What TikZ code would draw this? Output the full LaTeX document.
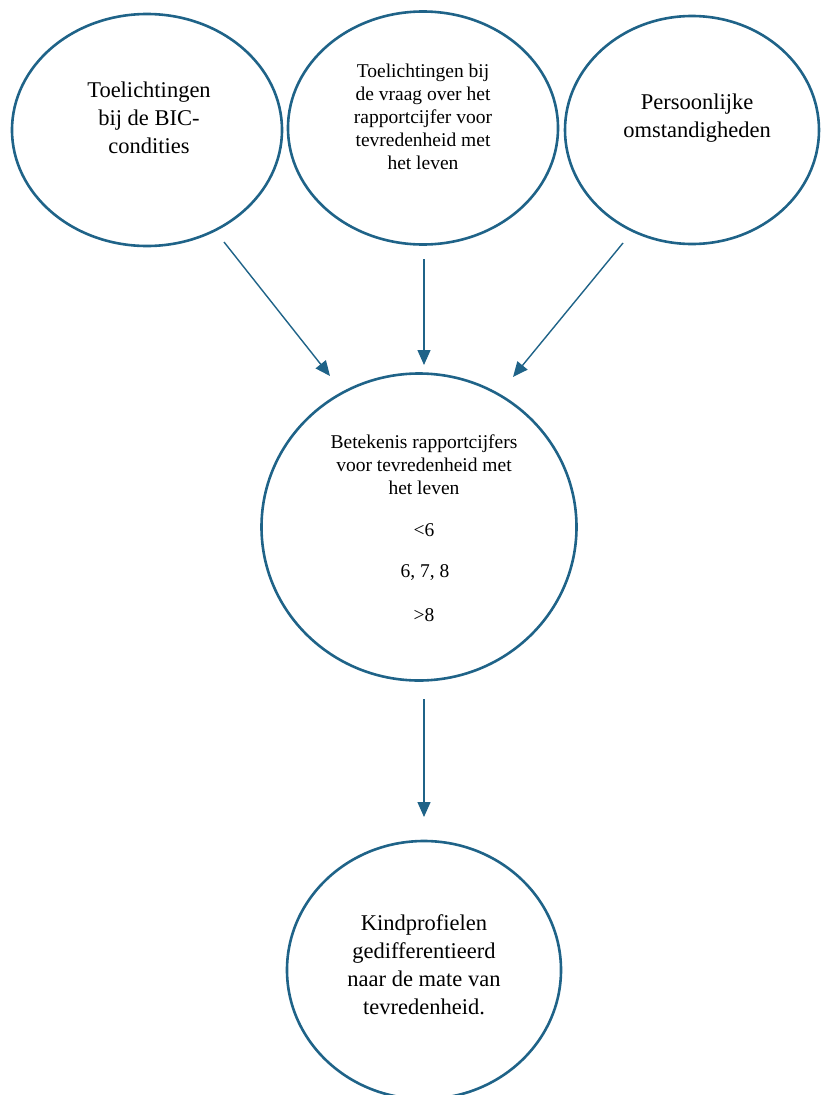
\documentclass[tikz,border=0pt]{standalone}
\usepackage{fontspec}
\setmainfont{Liberation Serif}
\usetikzlibrary{arrows.meta,shapes.geometric}
\definecolor{ring}{HTML}{1F6388}
\tikzset{
  ell/.style={ellipse, draw=ring, line width=2.6pt, inner sep=0pt},
  bigtxt/.style={align=center, font=\fontsize{22.5}{28}\selectfont, inner sep=0pt},
  smalltxt/.style={align=center, font=\fontsize{19.5}{23}\selectfont, inner sep=0pt},
  arr/.style={draw=ring, line width=1.4pt, -{Triangle[length=15pt,width=13pt]}}
}
\begin{document}
\begin{tikzpicture}[x=1pt,y=-1pt]
\useasboundingbox (0,0) rectangle (826,1095);
\clip (0,0) rectangle (826,1095);
% ellipses
\node[ell, minimum width=270pt, minimum height=232pt] (e1) at (147,130) {};
\node[ell, minimum width=270pt, minimum height=233pt] (e2) at (423,128) {};
\node[ell, minimum width=254pt, minimum height=228pt] (e3) at (692,130) {};
\node[ell, minimum width=315pt, minimum height=307pt] (c) at (419,527) {};
\node[ell, minimum width=274pt, minimum height=258pt] (b) at (424,970) {};
% texts
\node[bigtxt] (t1) at (149,118) {Toelichtingen\\bij de BIC-\\condities};
\node[smalltxt] (t2) at (423,117) {Toelichtingen bij\\de vraag over het\\rapportcijfer voor\\tevredenheid met\\het leven};
\node[bigtxt] (t3) at (697,118) {Persoonlijke\\omstandigheden};
\node[smalltxt] (t4) at (424,465) {Betekenis rapportcijfers\\voor tevredenheid met\\het leven};
\node[smalltxt] (t5) at (424,530) {<6};
\node[smalltxt] (t6) at (425,573) {6, 7, 8};
\node[smalltxt] (t7) at (424,615) {>8};
\node[bigtxt] (t8) at (424,965) {Kindprofielen\\gedifferentieerd\\naar de mate van\\tevredenheid.};
% arrow end points
\coordinate (s1) at (224,242);
\coordinate (d1) at (330,376);
\coordinate (s2) at (424,259);
\coordinate (d2) at (424,365);
\coordinate (s3) at (623,243);
\coordinate (d3) at (513,377);
\coordinate (s4) at (424,699);
\coordinate (d4) at (424,817);
\draw[arr] (s1) -- (d1);
\draw[arr] (s2) -- (d2);
\draw[arr] (s3) -- (d3);
\draw[arr] (s4) -- (d4);
\end{tikzpicture}
\end{document}
